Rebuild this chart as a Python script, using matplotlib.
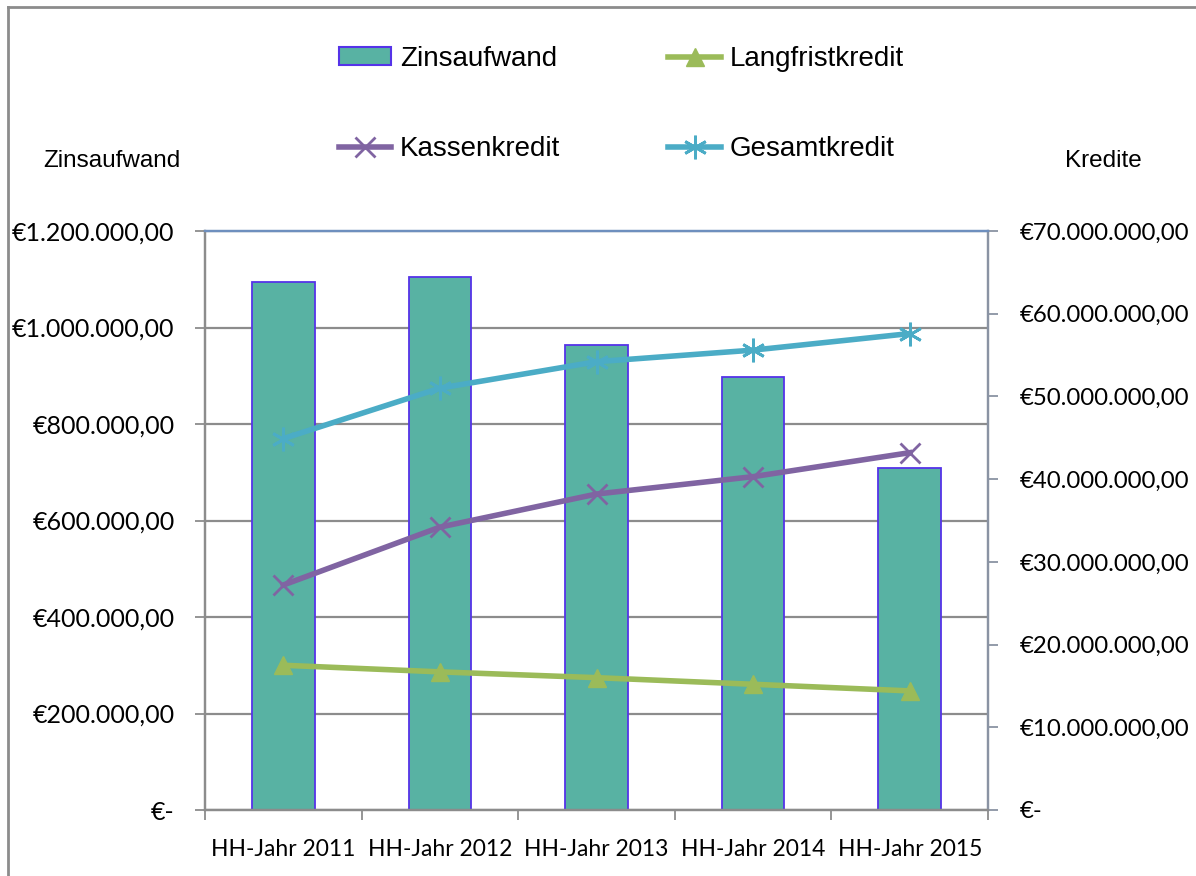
import matplotlib.pyplot as plt
import matplotlib.ticker as mticker
from matplotlib.lines import Line2D

# data
years = ["HH-Jahr 2011", "HH-Jahr 2012", "HH-Jahr 2013", "HH-Jahr 2014", "HH-Jahr 2015"]
zinsaufwand = [1094000, 1104000, 964000, 898000, 709000]
langfristkredit = [17500000, 16700000, 16000000, 15200000, 14400000]
kassenkredit = [27200000, 34200000, 38200000, 40300000, 43200000]
gesamtkredit = [44900000, 51000000, 54200000, 55600000, 57600000]

bar_col = "#58B2A3"
bar_edge = "#5533E8"
green = "#9BBB59"
purple = "#8064A2"
cyan = "#4BACC6"
grid_col = "#8C8C8C"
tick_font = "Lato"
text_font = "Liberation Sans"


def euro(v, pos=None):
    if v == 0:
        return "€-"
    s = "{:,.2f}".format(v)
    s = s.replace(",", "X").replace(".", ",").replace("X", ".")
    return "€" + s


fig = plt.figure(figsize=(11.96, 8.76), dpi=100)
W, H = 1196, 876
ax = fig.add_axes([205 / W, 1 - 810 / H, (988 - 205) / W, (810 - 231) / H])
ax2 = ax.twinx()

x = list(range(len(years)))
ax.bar(x, zinsaufwand, width=0.4, color=bar_col, edgecolor=bar_edge, linewidth=1.3, zorder=2)
ax.set_xlim(-0.5, len(years) - 0.5)
ax.set_ylim(0, 1200000)
ax.yaxis.set_major_locator(mticker.MultipleLocator(200000))
ax.yaxis.set_major_formatter(mticker.FuncFormatter(euro))
ax.grid(axis="y", color=grid_col, linewidth=1.6, zorder=0)
ax.set_axisbelow(True)

ax.set_xticks([i - 0.5 for i in range(len(years) + 1)])
ax.set_xticklabels([])
ax.set_xticks(x, minor=True)
ax.set_xticklabels(years, minor=True, fontsize=16.5, family=tick_font)
ax.tick_params(axis="x", which="minor", length=0, pad=21)
ax.tick_params(axis="x", which="major", length=7, width=1.3, color=grid_col, direction="out")
ax.tick_params(axis="y", length=7, width=1.3, color=grid_col, labelsize=18, pad=15)
for lab in ax.get_yticklabels():
    lab.set_family(tick_font)

ax2.plot(x, langfristkredit, color=green, linewidth=4, marker="^", markersize=13,
         markeredgecolor=green, zorder=3)
ax2.plot(x, kassenkredit, color=purple, linewidth=4, marker="x", markersize=14,
         markeredgewidth=2, zorder=3)
ax2.plot(x, gesamtkredit, color=cyan, linewidth=4, marker=(6, 2, 0), markersize=17,
         markeredgewidth=2, zorder=3)
ax2.set_ylim(0, 70000000)
ax2.yaxis.set_major_locator(mticker.MultipleLocator(10000000))
ax2.yaxis.set_major_formatter(mticker.FuncFormatter(euro))
ax2.tick_params(axis="y", length=7, width=1.3, color="#8A93A3", labelsize=17.3, pad=16)
for lab in ax2.get_yticklabels():
    lab.set_family(tick_font)

for a in (ax, ax2):
    a.spines["left"].set_color(grid_col)
    a.spines["bottom"].set_color(grid_col)
    a.spines["right"].set_color("#8A93A3")
    a.spines["top"].set_color("#6E8FBE")
    for sp in a.spines.values():
        sp.set_linewidth(1.6)

fig.text(112 / W, 1 - 161 / H, "Zinsaufwand", ha="center", va="center",
         fontsize=17.5, family=text_font)
fig.text(1103 / W, 1 - 161 / H, "Kredite", ha="center", va="center",
         fontsize=17.5, family=text_font)

handles = [
    plt.Rectangle((0, 0), 1, 1, facecolor=bar_col, edgecolor=bar_edge, linewidth=1.5),
    Line2D([], [], color=purple, linewidth=4, marker="x", markersize=14, markeredgewidth=2),
    Line2D([], [], color=green, linewidth=4, marker="^", markersize=13),
    Line2D([], [], color=cyan, linewidth=4, marker=(6, 2, 0), markersize=17, markeredgewidth=2),
]
labels = ["Zinsaufwand", "Kassenkredit", "Langfristkredit", "Gesamtkredit"]
fig.legend(handles, labels, ncol=2, loc="center", bbox_to_anchor=(621 / W, 1 - 104 / H),
           frameon=False, prop={"family": text_font, "size": 20},
           handlelength=1.9, handleheight=0.6, handletextpad=0.3,
           labelspacing=2.3, columnspacing=3.9)

# outer chart border
fig.add_artist(Line2D([8 / W, 8 / W], [0, 1 - 7 / H], color="#8C8C8C", linewidth=2,
                      transform=fig.transFigure))
fig.add_artist(Line2D([8 / W, 1], [1 - 7 / H, 1 - 7 / H], color="#8C8C8C", linewidth=2,
                      transform=fig.transFigure))

fig.savefig("out.png", dpi=100)
